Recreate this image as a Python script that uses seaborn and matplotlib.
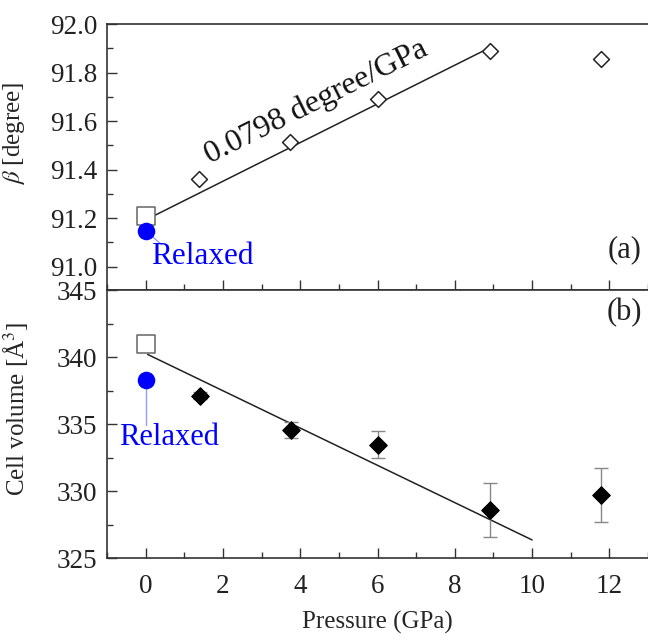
import numpy as np
import pandas as pd
import matplotlib
matplotlib.use("Agg")
import matplotlib.pyplot as plt
import seaborn as sns
from matplotlib.ticker import MultipleLocator

# ---------------- data ----------------
pressure = [1.38, 3.74, 6.0, 8.9, 11.78]
beta_vals = [91.36, 91.515, 91.69, 91.89, 91.855]
beta_p0 = [0.0]
beta_exp0 = [91.21]
beta_relaxed = [91.148]
beta_fit_x = [0.18, 8.9]
beta_fit_y = [91.207, 91.902]
slope_label = "0.0798 degree/GPa"

vol_pressure = [1.4, 3.75, 6.0, 8.9, 11.78]
vol_vals = [337.13, 334.54, 333.47, 328.61, 329.73]
vol_err = [0.25, 0.6, 1.0, 2.0, 2.0]
vol_p0 = [0.0]
vol_exp0 = [340.94]
vol_exp0_err = [0.5]
vol_relaxed = [338.27]
vol_fit_x = [0.05, 10.0]
vol_fit_y = [340.2, 326.37]

x_ticks = [0, 2, 4, 6, 8, 10, 12]

# ---------------- style ----------------
sns.set_style("ticks")
plt.rcParams["font.family"] = ["Liberation Serif", "DejaVu Serif"]
plt.rcParams["mathtext.fontset"] = "stix"
spine_c = "#333333"
plt.rcParams.update({
    "axes.edgecolor": spine_c,
    "axes.linewidth": 1.2,
    "xtick.color": spine_c,
    "ytick.color": spine_c,
    "xtick.labelcolor": "#222222",
    "ytick.labelcolor": "#222222",
})

fig = plt.figure(figsize=(6.48, 6.38), dpi=100)
left, right = 107 / 648, 1.0
ax1 = fig.add_axes([left, 1 - 290 / 638, right - left, (290 - 24) / 638])
ax2 = fig.add_axes([left, 1 - 558.3 / 638, right - left, (558.3 - 290) / 638])

blue = "#0000ff"

# ---------------- panel (a) ----------------
sns.lineplot(x=beta_fit_x, y=beta_fit_y, ax=ax1, color="#222222", lw=1.1)
sns.scatterplot(x=pressure, y=beta_vals, ax=ax1, marker="D", s=65,
                facecolor="white", edgecolor="#222222", linewidth=1.1, zorder=5)
sns.scatterplot(x=beta_p0, y=beta_exp0, ax=ax1, marker="s", s=160,
                facecolor="white", edgecolor="#666666", linewidth=1.1, zorder=5)
ax1.plot([beta_p0[0], 0.42], [beta_relaxed[0], 91.09], color="#9999ff", lw=1.0, zorder=3)
sns.scatterplot(x=beta_p0, y=beta_relaxed, ax=ax1, marker="o", s=160,
                color=blue, edgecolor=blue, linewidth=0, zorder=6)
ax1.text(0.13, 91.044, "Relaxed", color=blue, fontsize=22.5, ha="left", va="center")
ax1.text(4.4, 91.68, slope_label, fontsize=23, rotation=26.5,
         ha="center", va="center", rotation_mode="anchor", color="#111111")
ax1.text(0.956, 0.15, "(a)", transform=ax1.transAxes, fontsize=22,
         ha="center", va="center", color="#222222")

ax1.set_xlim(-1, 13)
ax1.set_ylim(90.904, 92.0)
ax1.yaxis.set_minor_locator(MultipleLocator(0.1))
ax1.set_yticks([91.0, 91.2, 91.4, 91.6, 91.8, 92.0])
ax1.set_yticklabels(["91.0", "91.2", "91.4", "91.6", "91.8", "92.0"])
ax1.set_xticks(x_ticks)
ax1.xaxis.set_minor_locator(MultipleLocator(1))
ax1.tick_params(axis="x", labelbottom=False)
ax1.set_ylabel(r"$\beta$ [degree]", fontsize=18)
ax1.yaxis.set_label_coords(-0.148, 0.59)

# ---------------- panel (b) ----------------
sns.lineplot(x=vol_fit_x, y=vol_fit_y, ax=ax2, color="#222222", lw=1.1)
ax2.errorbar(vol_pressure, vol_vals, yerr=vol_err, fmt="none",
             ecolor="#888888", elinewidth=1.0, capsize=5, capthick=1.0, zorder=2)
ax2.errorbar(vol_p0, vol_exp0, yerr=vol_exp0_err, fmt="none",
             ecolor="#888888", elinewidth=1.0, capsize=3, capthick=1.0, zorder=2)
sns.scatterplot(x=vol_pressure, y=vol_vals, ax=ax2, marker="D", s=80,
                color="black", edgecolor="black", linewidth=0.8, zorder=5)
sns.scatterplot(x=vol_p0, y=vol_exp0, ax=ax2, marker="s", s=160,
                facecolor="white", edgecolor="#666666", linewidth=1.1, zorder=5)
ax2.plot([vol_p0[0], vol_p0[0]], [vol_relaxed[0], 334.96], color="#9999ff", lw=1.0, zorder=3)
sns.scatterplot(x=vol_p0, y=vol_relaxed, ax=ax2, marker="o", s=160,
                color=blue, edgecolor=blue, linewidth=0, zorder=6)
ax2.text(0.6, 334.0, "Relaxed", color=blue, fontsize=22, ha="center", va="center")
ax2.text(0.956, 0.917, "(b)", transform=ax2.transAxes, fontsize=22,
         ha="center", va="center", color="#222222")

ax2.set_xlim(-1, 13)
ax2.set_ylim(325, 345)
ax2.set_yticks([325, 330, 335, 340, 345])
ax2.yaxis.set_minor_locator(MultipleLocator(2.5))
ax2.set_xticks(x_ticks)
ax2.xaxis.set_minor_locator(MultipleLocator(1))
ax2.set_xlabel("Pressure (GPa)", fontsize=18, labelpad=9)
ax2.set_ylabel("Cell volume [Å$^{3}$]", fontsize=18)
ax2.yaxis.set_label_coords(-0.142, 0.558)

for ax in (ax1, ax2):
    ax.spines["right"].set_visible(False)
    ax.tick_params(which="major", direction="in", length=7, width=1.0, labelsize=19.5)
    ax.tick_params(which="minor", direction="in", length=4, width=1.0)
    ax.tick_params(axis="y", which="both", right=False, pad=7)
    ax.tick_params(axis="x", which="both", top=False)
ax2.tick_params(axis="x", which="major", pad=11)

fig.savefig("out.png", dpi=100)
